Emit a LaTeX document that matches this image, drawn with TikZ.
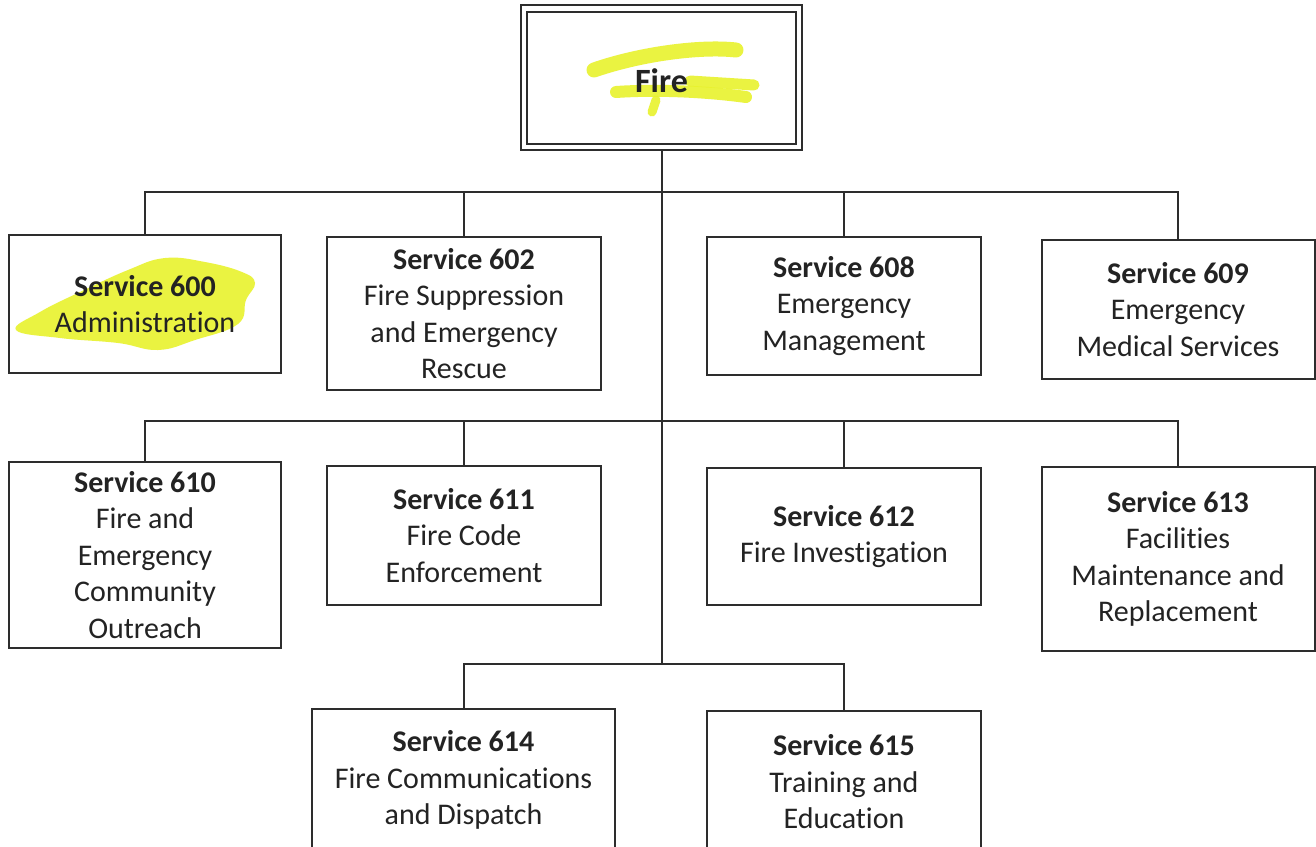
\documentclass[tikz,border=0pt]{standalone}
\usepackage{fontspec}
\setmainfont[Ligatures={NoCommon,NoRare,NoDiscretionary}]{Carlito}
\definecolor{linec}{RGB}{45,45,45}
\definecolor{textc}{RGB}{35,35,35}
\definecolor{hl}{RGB}{232,242,45}
\begin{document}
\begin{tikzpicture}[x=1pt,y=-1pt,
  box/.style={draw=linec,line width=2pt,align=center,inner sep=0pt,text=textc,
    font=\fontsize{30}{36.5}\selectfont},
  conn/.style={draw=linec,line width=2pt},
  hlstroke/.style={hl,line width=15pt,line cap=round,opacity=0.9}]
\useasboundingbox (0,0) rectangle (1316,846);
\clip (0,0) rectangle (1316,846);
\fill[white] (0,0) rectangle (1316,846);
% highlights
\draw[hlstroke] (594,70) .. controls (640,54) and (700,46) .. (736,50);
\draw[hlstroke,line width=11pt] (690,81) -- (754,85);
\draw[hlstroke,line width=12pt] (616,92) .. controls (660,89) and (710,92) .. (746,97);
\draw[hlstroke,line width=9pt] (656,100) -- (652,112);
\fill[hl,opacity=0.9] plot[smooth cycle,tension=0.7] coordinates {
  (16,330) (40,312) (80,292) (128,270) (165,258) (205,262) (242,272) (255,283)
  (246,300) (238,324) (195,340) (158,350) (118,343) (60,338)};
% top box
\node[draw=linec,line width=2.8pt,minimum width=281pt,minimum height=145pt,inner sep=0pt] (fire) at (661.5,77.5) {};
\draw[linec,line width=1.8pt] (527,12) rectangle (796,144);
\node[text=textc,font=\fontsize{34}{40}\selectfont\bfseries] (firet) at (661.5,81) {Fire};
% row 1
\node[box,minimum width=272pt,minimum height=138pt] (s600) at (145,304) {\textbf{Service 600}\\Administration};
\node[box,minimum width=274pt,minimum height=153pt] (s602) at (464,313.5) {\textbf{Service 602}\\Fire Suppression\\and Emergency\\Rescue};
\node[box,minimum width=274pt,minimum height=138pt] (s608) at (844,306) {\textbf{Service 608}\\Emergency\\Management};
\node[box,minimum width=273pt,minimum height=139pt] (s609) at (1178,309.5) {\textbf{Service 609}\\Emergency\\Medical Services};
% row 2
\node[box,minimum width=272pt,minimum height=186pt] (s610) at (145,555) {\textbf{Service 610}\\Fire and\\Emergency\\Community\\Outreach};
\node[box,minimum width=274pt,minimum height=139pt] (s611) at (464,535.5) {\textbf{Service 611}\\Fire Code\\Enforcement};
\node[box,minimum width=274pt,minimum height=137pt] (s612) at (844,536.5) {\textbf{Service 612}\\Fire Investigation};
\node[box,minimum width=273pt,minimum height=184pt] (s613) at (1178,559) {\textbf{Service 613}\\Facilities\\Maintenance and\\Replacement};
% row 3
\node[box,minimum width=303pt,minimum height=142pt] (s614) at (463.5,780) {\textbf{Service 614}\\Fire Communications\\and Dispatch};
\node[box,minimum width=274pt,minimum height=142pt] (s615) at (844,782) {\textbf{Service 615}\\Training and\\Education};
% connectors
\coordinate (bus1) at (661.5,192);
\coordinate (bus2) at (661.5,421);
\coordinate (bus3) at (661.5,664);
\draw[conn] (fire.south) -- (bus3);
\draw[conn] (s600.north) |- (bus1) -| (s609.north);
\draw[conn] (s602.north) -- (s602.north |- bus1);
\draw[conn] (s608.north) -- (s608.north |- bus1);
\draw[conn] (s610.north) |- (bus2) -| (s613.north);
\draw[conn] (s611.north) -- (s611.north |- bus2);
\draw[conn] (s612.north) -- (s612.north |- bus2);
\draw[conn] (s614.north) |- (bus3) -| (s615.north);
\end{tikzpicture}
\end{document}
